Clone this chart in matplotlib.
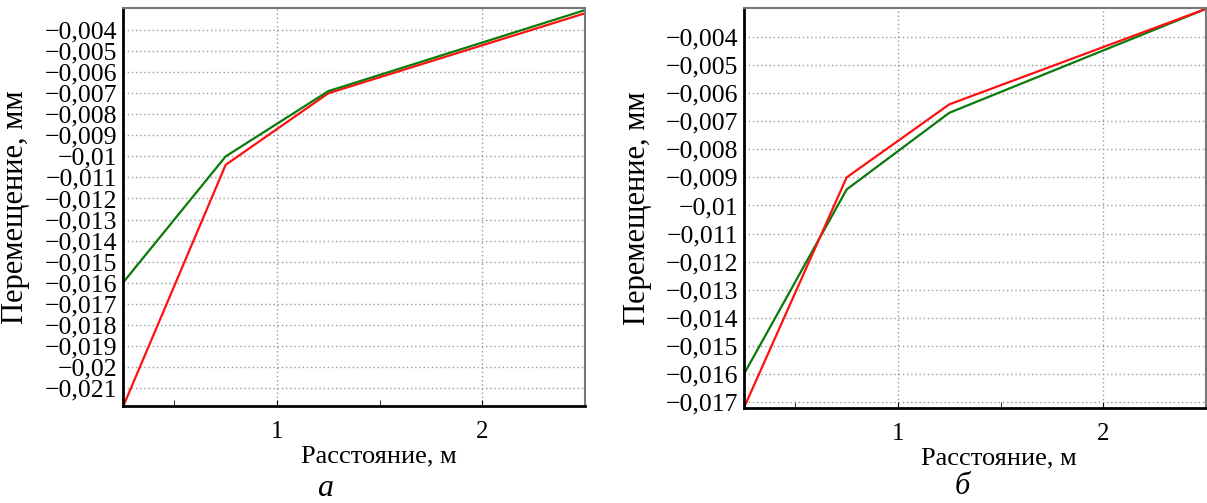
import numpy as np
import matplotlib.pyplot as plt
from matplotlib.ticker import FixedLocator, FuncFormatter

# distance along the beam, m
x_pts = [0.25, 0.75, 1.25, 2.5]

# panel a
a_red = [-0.0219, -0.0104, -0.0070, -0.0032]
a_green = [-0.0160, -0.0100, -0.0069, -0.00305]
a_yticks = [-0.004, -0.005, -0.006, -0.007, -0.008, -0.009, -0.010, -0.011, -0.012,
            -0.013, -0.014, -0.015, -0.016, -0.017, -0.018, -0.019, -0.020, -0.021]

# panel b
b_red = [-0.0172, -0.0090, -0.0064, -0.0030]
b_green = [-0.0160, -0.00943, -0.0067, -0.0030]
b_yticks = [-0.004, -0.005, -0.006, -0.007, -0.008, -0.009, -0.010, -0.011, -0.012,
            -0.013, -0.014, -0.015, -0.016, -0.017]

x_major = [1, 2]
x_minor = [0.5, 1.5]

plt.rcParams['font.family'] = ['Liberation Serif', 'DejaVu Serif']


def fmt(v, pos=None):
    s = f"{v:.3f}".rstrip('0')
    s = s.replace('.', ',').replace('-', '\u2212')
    return s


def setup(ax, yticks, ylim):
    ax.set_xlim(0.25, 2.5)
    ax.set_ylim(*ylim)
    ax.xaxis.set_major_locator(FixedLocator(x_major))
    ax.xaxis.set_minor_locator(FixedLocator(x_minor))
    ax.yaxis.set_major_locator(FixedLocator(yticks))
    ax.yaxis.set_major_formatter(FuncFormatter(fmt))
    ax.grid(True, which='major', linestyle=(0, (1, 2)), color='#999999', linewidth=1)
    ax.tick_params(axis='y', length=0, pad=4, labelsize=18.5)
    ax.tick_params(axis='x', which='both', direction='in', length=4, pad=11, labelsize=18)
    for s in ['left', 'bottom']:
        ax.spines[s].set_linewidth(2)
        ax.spines[s].set_color('black')
    for s in ['top', 'right']:
        ax.spines[s].set_linewidth(1.5)
        ax.spines[s].set_color('#777777')
    ax.set_xlabel('Расстояние, м', fontsize=19)
    ax.set_ylabel('Перемещение, мм', fontsize=22)


fig = plt.figure(figsize=(12.07, 5.03), dpi=100)

ax1 = fig.add_axes([0.1019, 0.1928, 0.3828, 0.7913])
ax1.plot(x_pts, a_red, color='#ff1010', lw=1.6)
ax1.plot(x_pts, a_green, color='#0a7a0a', lw=1.6)
setup(ax1, a_yticks, (-0.02186, -0.00295))
ax1.xaxis.set_label_coords(0.553, -0.10)
ax1.yaxis.set_label_coords(-0.201, 0.5)
fig.text(325 / 1207, 1 - 489 / 503, 'а', fontsize=23, style='italic', ha='center', va='center')

ax2 = fig.add_axes([0.6164, 0.1889, 0.3828, 0.7952])
ax2.plot(x_pts, b_green, color='#0a7a0a', lw=1.6)
ax2.plot(x_pts, b_red, color='#ff1010', lw=1.6)
setup(ax2, b_yticks, (-0.01721, -0.00297))
ax2.xaxis.set_label_coords(0.552, -0.0975)
ax2.yaxis.set_label_coords(-0.199, 0.5)
fig.text(962 / 1207, 1 - 487 / 503, 'б', fontsize=22, style='italic', ha='center', va='center')

fig.savefig('out.png', dpi=100)
